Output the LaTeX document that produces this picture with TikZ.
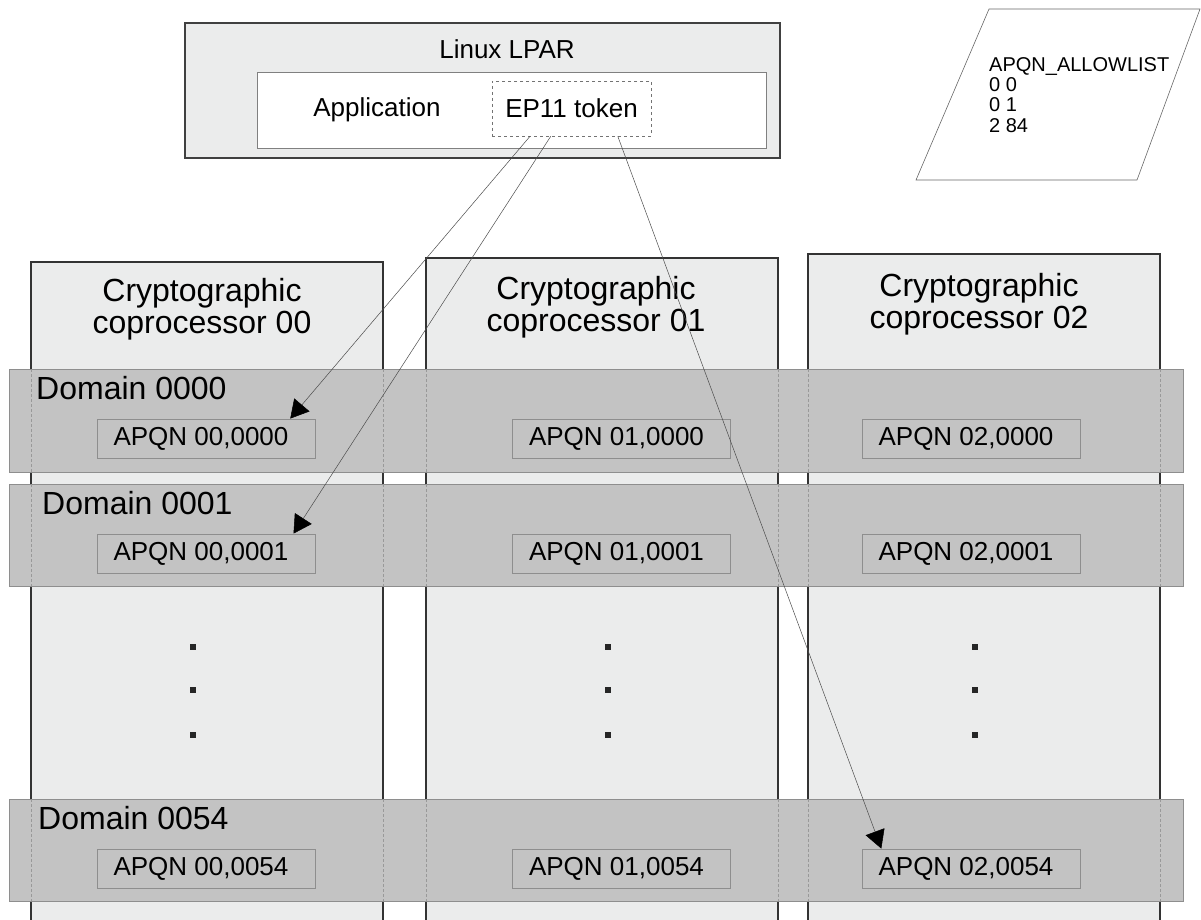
\documentclass[tikz,border=0pt]{standalone}
\usepackage{fontspec}
\setmainfont{Liberation Sans}
\usetikzlibrary{shapes,arrows.meta,positioning,calc}
\definecolor{boxgray}{HTML}{EBECEC}
\definecolor{bandgray}{HTML}{C3C3C3}
\definecolor{edgegray}{HTML}{8E8E8E}
\tikzset{
	apqn/.style={draw=edgegray,fill=bandgray,line width=.8pt,minimum width=218pt,minimum height=39pt,inner sep=0pt,font=\fontsize{26}{28}\selectfont},
	domlabel/.style={anchor=west,inner sep=0pt,font=\fontsize{32}{34}\selectfont},
	cptitle/.style={align=center,inner sep=0pt,font=\fontsize{32}{32}\selectfont},
	link/.style={draw=black!70,line width=.5pt,-{Triangle[length=18pt,width=20pt,color=black]}},
}

\begin{document}
\begin{tikzpicture}[x=1pt,y=-1pt]
	\useasboundingbox (0,0) rectangle (1201,920);

	% Linux LPAR
	\filldraw[fill=boxgray,draw=black!75,line width=1.5pt] (185,23) rectangle (780,158);
	\node[font=\fontsize{26}{28}\selectfont] (lpar) at (507,49) {Linux LPAR};
	\filldraw[fill=white,draw=black!50,line width=.8pt] (257,72) rectangle (766,148);
	\node[font=\fontsize{26}{28}\selectfont] (app) at (377,110) {Application};
	\node[draw=black!55,dashed,line width=.6pt,minimum width=159pt,minimum height=55pt,inner sep=0pt,font=\fontsize{26}{28}\selectfont] (tok) at (571.5,108.5) {EP11 token};

	% allow list
	\draw[black!60,line width=.6pt] (989,9) -- (1200,9) -- (1137,180) -- (916,180) -- cycle;
	\node[anchor=north west,align=left,inner sep=0pt,font=\fontsize{20}{20.3}\selectfont] (allow) at (989,57) {APQN\_ALLOWLIST\\0 0\\0 1\\2 84};

	% coprocessors
	\foreach \c/\xl/\xr/\yt in {00/31/383/262,01/426/778/258,02/808/1160/254} {
		\fill[boxgray] (\xl,925) rectangle (\xr,\yt);
		\draw[black!80,line width=1.5pt] (\xl,925) -- (\xl,\yt) -- (\xr,\yt) -- (\xr,925);
	}
	\node[cptitle] (cp00) at (202,309) {Cryptographic\\coprocessor 00};
	\node[cptitle] (cp01) at (596,307) {Cryptographic\\coprocessor 01};
	\node[cptitle] (cp02) at (979,304) {Cryptographic\\coprocessor 02};

	% domains
	\foreach \d/\yt/\yb/\xd in {0000/369/472/36,0001/484/586/42,0054/799/901/38} {
		\filldraw[fill=bandgray,draw=edgegray,line width=1pt] (9,\yt) rectangle (1183,\yb);
		\foreach \x in {31,383,426,778,808,1160} \draw[black!40,dash pattern=on 3pt off 2pt,line width=.5pt] (\x,\yt) -- (\x,\yb);
		\node[domlabel] (dom\d) at (\xd,{\yt+19}) {Domain \d};
		\foreach \c/\xc in {00/206,01/621.5,02/971} \node[apqn] (ap\c-\d) at (\xc,{\yt+69.5}) {\hspace*{-10pt}APQN \c,\d};
	}

	% dots
	\foreach \x in {193,608,975} \foreach \y in {647,690,735} \fill[black!85] (\x-3,\y-3) rectangle (\x+3,\y+3);

	% token to APQNs
	\draw[link] ($(tok.south west)!0.24!(tok.south east)$) -- ($(ap00-0000.north west)!0.885!(ap00-0000.north east)$);
	\draw[link] ($(tok.south west)!0.37!(tok.south east)$) -- ($(ap00-0001.north west)!0.9!(ap00-0001.north east)$);
	\draw[link] ($(tok.south west)!0.79!(tok.south east)$) -- ($(ap02-0054.north west)!0.09!(ap02-0054.north east)$);
\end{tikzpicture}
\end{document}
